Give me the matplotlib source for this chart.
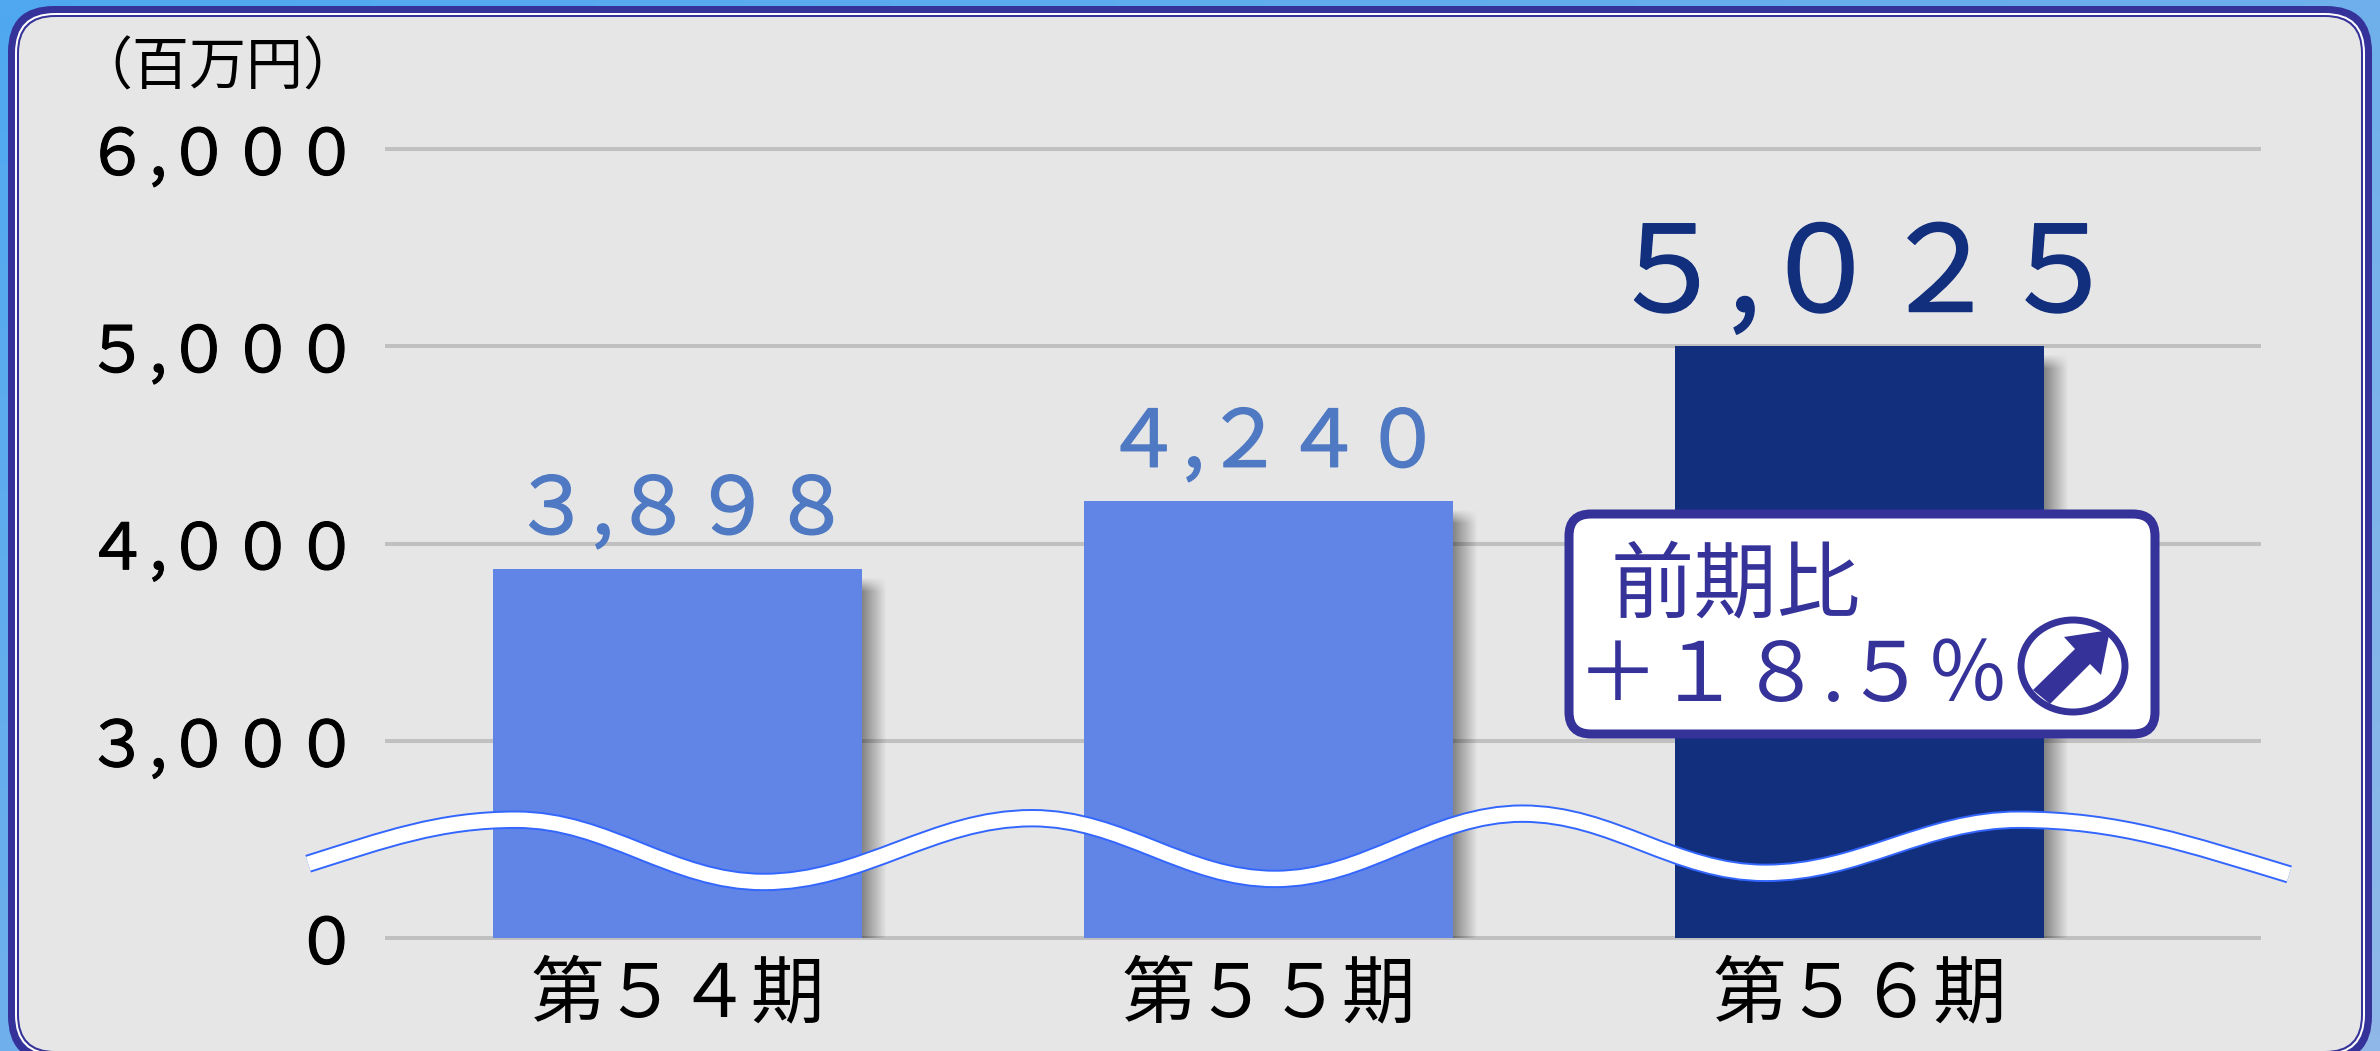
import numpy as np
import matplotlib
matplotlib.use("Agg")
import matplotlib.pyplot as plt
import matplotlib.patheffects as pe
from matplotlib.patches import FancyBboxPatch, Rectangle, Ellipse, Polygon, PathPatch
from matplotlib.path import Path
from matplotlib.transforms import IdentityTransform

plt.rcParams['font.family'] = ['Noto Sans CJK JP', 'DejaVu Sans']

W, H = 2380, 1051

categories = ['第５４期', '第５５期', '第５６期']
value_labels = ['３,８９８', '４,２４０', '５,０２５']
# heights as drawn in the picture (the axis is broken below 3,000)
bar_heights = [3873, 4213, 5000]
bar_colors = ['#6185E6', '#6185E6', '#122F7E']
label_colors = ['#4F79C2', '#4F79C2', '#122F7E']
label_sizes = [57, 57, 86]
y_ticks = [0, 3000, 4000, 5000, 6000]
y_tick_labels = ['０', '３,０００', '４,０００', '５,０００', '６,０００']

NAVY = '#353299'
PANEL = '#E6E6E6'

fig = plt.figure(figsize=(W / 100, H / 100), dpi=100)

# background + rounded frame, in pixel coordinates
bg = fig.add_axes([0, 0, 1, 1], zorder=0)
bg.set_xlim(0, W)
bg.set_ylim(H, 0)
bg.axis('off')
xx, yy = np.meshgrid(np.linspace(0, 1, 64), np.linspace(0, 1, 64))
t = (xx + yy) / 2
c0, c1 = np.array([0x4F, 0xA8, 0xF0]) / 255, np.array([0x8F, 0xB8, 0xE8]) / 255
grad = c0[None, None, :] * (1 - t[..., None]) + c1[None, None, :] * t[..., None]
bg.imshow(grad, extent=(0, W, H, 0), aspect='auto', zorder=0)


def frame(inset, color, radius):
    bg.add_patch(FancyBboxPatch((8 + inset, 6 + inset), W - 16 - 2 * inset, 1062 - 6 - 2 * inset,
                                boxstyle=f"round,pad=0,rounding_size={radius}",
                                fc=color, ec='none', zorder=1))


frame(0, NAVY, 46)
frame(7, 'white', 40)
frame(9, NAVY, 38)
frame(11, PANEL, 36)

# the chart itself
ax = fig.add_axes([385 / W, 1 - 938 / H, (2261 - 385) / W, (938 - 149) / H], zorder=1)
ax.patch.set_visible(False)
ax.set_yscale('function', functions=(
    lambda v: np.interp(v, [0, 3000, 6000], [0, 1, 4]),
    lambda p: np.interp(p, [0, 1, 4], [0, 3000, 6000])))
ax.set_ylim(0, 6000)
ax.set_xlim(-0.495, 2.679)
for s in ax.spines.values():
    s.set_visible(False)
ax.set_axisbelow(True)
ax.yaxis.grid(True, color='#C0C0C0', lw=2.9, clip_on=False, solid_capstyle='butt')
ax.set_yticks(y_ticks, y_tick_labels, fontsize=46)
ax.minorticks_off()
ax.set_xticks(range(3), categories, fontsize=53)
ax.tick_params(axis='both', length=0)
ax.tick_params(axis='y', pad=19)
ax.tick_params(axis='x', pad=14)
for lab in ax.get_yticklabels():
    lab.set_path_effects([pe.withStroke(linewidth=0.8, foreground='black')])

bars = ax.bar(range(3), bar_heights, width=0.624, color=bar_colors, zorder=3)

fig.canvas.draw()
for b in bars:
    e = b.get_window_extent()
    # soft drop shadow on the right and under the bar, fading in at the top
    for i in range(24):
        a = 0.42 * (1 - i / 24)
        ax.add_patch(Rectangle((e.x1 + i, e.y0 - 3), 1, e.height - 20, fc='black', alpha=a,
                               ec='none', transform=IdentityTransform(), zorder=2))
        for r in range(14):
            ax.add_patch(Rectangle((e.x1 + i, e.y1 - 23 + r), 1, 1, fc='black', alpha=a * (1 - r / 14),
                                   ec='none', transform=IdentityTransform(), zorder=2))
    ax.add_patch(Rectangle((e.x0 + 10, e.y0 - 4), e.width - 10, 4, fc='black', alpha=0.25,
                           ec='none', transform=IdentityTransform(), zorder=2))

for i, h in enumerate(bar_heights):
    txt = ax.annotate(value_labels[i], (i, h), xytext=(3, 25), textcoords='offset points',
                      ha='center', va='baseline', fontsize=label_sizes[i],
                      color=label_colors[i], zorder=5)
    txt.set_path_effects([pe.withStroke(linewidth=1.0, foreground=label_colors[i])])

# overlay: unit, break wave, callout
top = fig.add_axes([0, 0, 1, 1], zorder=2)
top.set_xlim(0, W)
top.set_ylim(H, 0)
top.axis('off')
top.patch.set_visible(False)

top.text(218, 68, '（百万円）', fontsize=41, ha='center', va='center', color='black')

wave = [(203, 569), (340, 540), (503, 581), (680, 539), (840, 579),
        (1003, 536), (1163, 575), (1330, 540), (1508, 576)]
wave = [(x * 1.518, y * 1.518) for x, y in wave]
verts = [wave[0]]
codes = [Path.MOVETO]
for j in range(len(wave) - 1):
    (x0, y0), (x1, y1) = wave[j], wave[j + 1]
    dx = x1 - x0
    c1y = y0 if j > 0 else y0 + (y1 - y0) * 0.55
    c2y = y1 if j < len(wave) - 2 else y1 - (y1 - y0) * 0.55
    verts += [(x0 + 0.37 * dx, c1y), (x1 - 0.37 * dx, c2y), (x1, y1)]
    codes += [Path.CURVE4] * 3
wave_path = Path(verts, codes)
top.add_patch(PathPatch(wave_path, fc='none', ec='#3366FF', lw=13.2, capstyle='butt', zorder=3))
top.add_patch(PathPatch(wave_path, fc='none', ec='white', lw=10.4, capstyle='butt', zorder=4))

top.add_patch(FancyBboxPatch((1569, 514), 586, 220, boxstyle="round,pad=0,rounding_size=22",
                             fc='white', ec=NAVY, lw=6.5, zorder=6))
top.text(1736, 587, '前期比', fontsize=60, color=NAVY, ha='center', va='center', zorder=7)
top.text(1793, 678, '＋１８.５％', fontsize=59, color=NAVY, ha='center', va='center', zorder=7)
top.add_patch(Ellipse((2073, 666), 104, 92, fc='white', ec=NAVY, lw=5, zorder=7))
top.add_patch(Polygon([(2110, 630), (2064, 637), (2075, 649), (2033, 690), (2050, 704),
                       (2090, 664), (2101, 675)], closed=True, fc=NAVY, ec='none', zorder=8))

fig.savefig('out.png', dpi=100)
